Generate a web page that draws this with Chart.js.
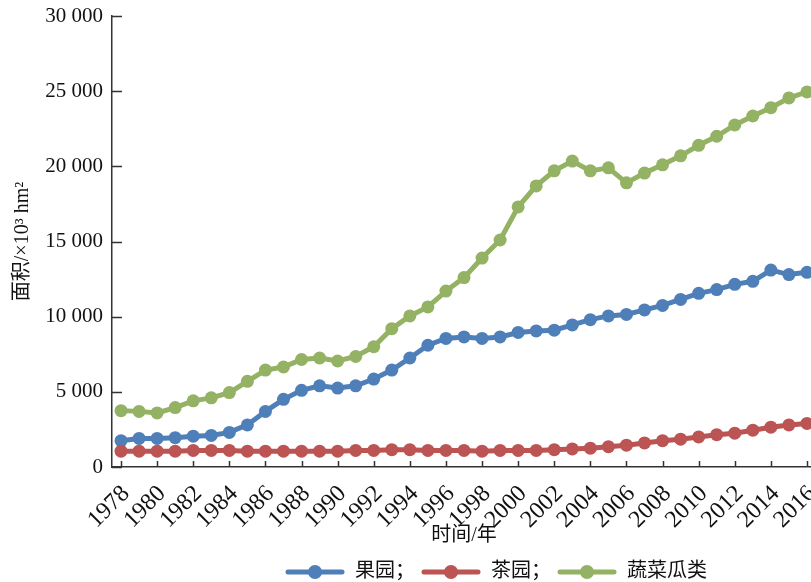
<!DOCTYPE html>
<html>
<head>
<meta charset="utf-8">
<script src="https://cdn.jsdelivr.net/npm/chart.js@4/dist/chart.umd.min.js"></script>
<style>
  html, body { margin: 0; padding: 0; background: #fff; overflow: hidden; }
  #wrap { width: 992px; height: 582px; }
</style>
</head>
<body>
<div id="wrap"><canvas id="chart"></canvas></div>
<script>
const years = [];
for (let y = 1978; y <= 2016; y++) years.push(String(y));

// 面积 ×10^3 hm²
const orchard = [1750, 1900, 1900, 1950, 2050, 2100, 2300, 2800, 3700, 4500, 5100, 5400, 5250, 5400, 5850, 6450, 7250, 8100, 8550, 8650, 8550, 8650, 8950, 9050, 9100, 9450, 9800, 10050, 10150, 10450, 10750, 11150, 11550, 11800, 12150, 12350, 13100, 12800, 12950];
const tea = [1050, 1050, 1050, 1050, 1100, 1100, 1100, 1050, 1050, 1050, 1050, 1050, 1050, 1100, 1100, 1150, 1150, 1100, 1100, 1100, 1050, 1100, 1100, 1100, 1150, 1200, 1250, 1350, 1450, 1600, 1750, 1850, 2000, 2150, 2250, 2450, 2650, 2800, 2900];
const vegetables = [3750, 3700, 3600, 3950, 4400, 4600, 4950, 5700, 6450, 6650, 7150, 7250, 7050, 7350, 8000, 9200, 10050, 10650, 11700, 12600, 13900, 15100, 17300, 18700, 19700, 20350, 19700, 19900, 18900, 19550, 20100, 20700, 21400, 22000, 22750, 23350, 23900, 24550, 24950];

const seriesNames = ["果园；", "茶园；", "蔬菜瓜类"];
const colors = ["#4f7fb8", "#bb5453", "#94b263"];

const fontFamily = "'Liberation Serif', 'Noto Sans CJK SC', serif";

// legend icon: line with a dot in the middle
function legendIcon(color) {
  const c = document.createElement("canvas");
  c.width = 60;
  c.height = 16;
  const g = c.getContext("2d");
  g.strokeStyle = color;
  g.lineWidth = 5;
  g.lineCap = "round";
  g.beginPath();
  g.moveTo(3, 8);
  g.lineTo(57, 8);
  g.stroke();
  g.fillStyle = color;
  g.beginPath();
  g.arc(30, 8, 7, 0, Math.PI * 2);
  g.fill();
  return c;
}

// ticks pointing into the plot
const innerTicks = {
  id: "innerTicks",
  beforeDatasetsDraw(chart) {
    const { ctx, chartArea, scales } = chart;
    ctx.save();
    ctx.strokeStyle = "#333";
    ctx.lineWidth = 1.5;
    ctx.beginPath();
    scales.y.ticks.forEach((t, i) => {
      const py = Math.round(scales.y.getPixelForTick(i)) + 0.5;
      ctx.moveTo(chartArea.left, py);
      ctx.lineTo(chartArea.left + 10, py);
    });
    scales.x.ticks.forEach((t, i) => {
      if (Number(years[i]) % 2 === 0) {
        const px = Math.round(scales.x.getPixelForTick(i)) + 0.5;
        ctx.moveTo(px, chartArea.bottom);
        ctx.lineTo(px, chartArea.bottom - 6);
      }
    });
    ctx.stroke();
    ctx.restore();
  },
};

function makeDataset(i, values, order) {
  return {
    label: seriesNames[i],
    data: values,
    borderColor: colors[i],
    backgroundColor: colors[i],
    borderWidth: 5,
    pointRadius: 6.5,
    pointBorderWidth: 0,
    pointBackgroundColor: colors[i],
    tension: 0,
    order: order,
  };
}

new Chart(document.getElementById("chart"), {
  type: "line",
  data: {
    labels: years,
    datasets: [makeDataset(0, orchard, 2), makeDataset(1, tea, 1), makeDataset(2, vegetables, 0)],
  },
  options: {
    responsive: true,
    maintainAspectRatio: false,
    animation: false,
    layout: { padding: { top: 16, left: 0, right: 0, bottom: -10 } },
    scales: {
      x: {
        type: "category",
        offset: true,
        grid: { drawOnChartArea: false, drawTicks: false },
        border: { display: true, color: "#333", width: 1.5 },
        ticks: {
          autoSkip: false,
          minRotation: 45,
          maxRotation: 45,
          padding: 13,
          labelOffset: 5,
          color: "#111",
          font: { family: fontFamily, size: 24 },
          callback: function (v, i) {
            return Number(years[i]) % 2 === 0 ? years[i] : "";
          },
        },
        title: {
          display: true,
          text: "时间/年",
          color: "#111",
          font: { family: fontFamily, size: 20 },
          padding: { top: 0, bottom: 8 },
        },
        afterFit: (s) => { s.height = 89; },
      },
      y: {
        min: 0,
        max: 30000,
        grid: { drawOnChartArea: false, drawTicks: false },
        border: { display: true, color: "#333", width: 1.5 },
        ticks: {
          stepSize: 5000,
          padding: 9,
          color: "#111",
          font: { family: fontFamily, size: 21 },
          callback: (v) => String(v).replace(/\B(?=(\d{3})+(?!\d))/g, " "),
        },
        title: {
          display: true,
          text: "面积/×10³ hm²",
          color: "#111",
          font: { family: fontFamily, size: 20 },
          padding: { top: 11, bottom: 0 },
        },
        afterFit: (s) => {
          s.width = 112;
          s.paddingTop = 0;
          s.paddingBottom = 0;
        },
      },
      // empty spacer on the right, the plot runs past the window edge
      yRight: {
        type: "linear",
        position: "right",
        display: true,
        grid: { display: false },
        border: { display: false },
        ticks: { display: false },
        afterFit: (s) => {
          s.width = 176;
          s.paddingTop = 0;
          s.paddingBottom = 0;
        },
      },
    },
    plugins: {
      legend: {
        position: "bottom",
        labels: {
          usePointStyle: true,
          pointStyleWidth: 60,
          padding: 6,
          color: "#111",
          font: { family: fontFamily, size: 20 },
          generateLabels: (chart) =>
            chart.data.datasets.map((ds, i) => ({
              text: ds.label,
              pointStyle: legendIcon(colors[i]),
              fillStyle: colors[i],
              strokeStyle: colors[i],
              lineWidth: 0,
              fontColor: "#111",
              hidden: false,
              datasetIndex: i,
            })),
        },
      },
      tooltip: { enabled: false },
    },
  },
  plugins: [innerTicks],
});
</script>
</body>
</html>
